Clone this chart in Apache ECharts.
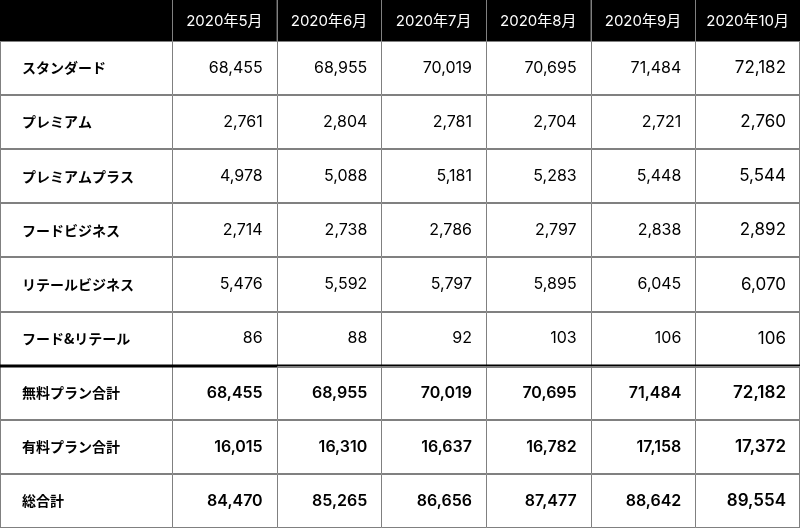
<!DOCTYPE html>
<html>
<head>
<meta charset="utf-8">
<script src="https://cdn.jsdelivr.net/npm/echarts@6/dist/echarts.min.js"></script>
<style>html,body{margin:0;padding:0;background:#fff}#c{width:800px;height:529px}</style>
</head>
<body>
<div id="c"></div>
<script>
const months = ['2020年5月','2020年6月','2020年7月','2020年8月','2020年9月','2020年10月'];
const rowLabels = ['スタンダード','プレミアム','プレミアムプラス','フードビジネス','リテールビジネス','フード&リテール','無料プラン合計','有料プラン合計','総合計'];
const standard    = [68455,68955,70019,70695,71484,72182];
const premium     = [2761,2804,2781,2704,2721,2760];
const premiumPlus = [4978,5088,5181,5283,5448,5544];
const food        = [2714,2738,2786,2797,2838,2892];
const retail      = [5476,5592,5797,5895,6045,6070];
const foodRetail  = [86,88,92,103,106,106];
const freeTotal   = [68455,68955,70019,70695,71484,72182];
const paidTotal   = [16015,16310,16637,16782,17158,17372];
const grandTotal  = [84470,85265,86656,87477,88642,89554];

const rows = [standard, premium, premiumPlus, food, retail, foodRetail, freeTotal, paidTotal, grandTotal];
const data = [];
rows.forEach((arr, r) => arr.forEach((v, c) => data.push([c, r, v])));

const FONT = '"Noto Sans CJK JP", "Noto Sans", sans-serif';
const NUMFONT = 'Inter, "Noto Sans CJK JP", sans-serif';
const GRID = '#808080';
const fmt = v => Number(v).toLocaleString('en-US');

function renderItem(params, api) {
  const col = api.value(0), row = api.value(1), val = api.value(2);
  const cs = params.coordSys;
  const c = api.coord([col, row]);
  const s = api.size([1, 1]);
  const w = s[0], h = s[1];
  const x0 = Math.round(c[0] - w / 2) + 0.5;
  const y0 = Math.round(c[1] - h / 2) + 0.5;
  const x1 = Math.round(c[0] + w / 2) - 0.5;
  const y1 = Math.round(c[1] + h / 2) - 0.5;
  const children = [];
  const line = (ax, ay, bx, by, lw, col_) => children.push({
    type: 'line', shape: {x1: ax, y1: ay, x2: bx, y2: by},
    style: {stroke: col_ || GRID, lineWidth: lw || 1}
  });
  if (row === 0) {
    children.push({type: 'rect', shape: {x: c[0] - w / 2, y: 0, width: w, height: c[1] - h / 2}, style: {fill: '#000'}});
    line(x0, 0, x0, y0);
    if (col === 0) {
      children.push({type: 'rect', shape: {x: 0, y: 0, width: c[0] - w / 2, height: c[1] - h / 2}, style: {fill: '#000'}});
    }
  }
  line(x0, y0, x0, y1);
  line(x0, y1, x1 + 1, y1);
  if (col === 5) line(x1, y0, x1, y1);
  line(x0, y0, x1 + 1, y0);
  if (col === 0) {
    line(0.5, y0, 0.5, y1);
    line(0, y1, x0, y1);
    line(0, y0, x0, y0);
  }
  if (row === 6 && col === 0) {
    line(0, Math.round(c[1] - h / 2), cs.x + cs.width, Math.round(c[1] - h / 2), 3, '#000');
  }
  const bold = row >= 6;
  const size = col === 5 ? 17 : 16;
  children.push({
    type: 'text',
    style: {
      text: fmt(val), x: c[0] + w / 2 - 14, y: c[1],
      align: 'right', verticalAlign: 'middle',
      fill: '#000', font: (bold ? '600 ' : '400 ') + size + 'px ' + NUMFONT
    }
  });
  return {type: 'group', children};
}

const chart = echarts.init(document.getElementById('c'));
chart.setOption({
  animation: false,
  backgroundColor: '#fff',
  grid: {left: 172, right: 0, top: 41, bottom: 1, containLabel: false},
  xAxis: {
    type: 'category', data: months, position: 'top', z: 10,
    axisLine: {show: false}, axisTick: {show: false}, splitLine: {show: false},
    axisLabel: {color: '#fff', fontSize: 15, fontFamily: NUMFONT, margin: 20, verticalAlign: 'middle', interval: 0}
  },
  yAxis: {
    type: 'category', data: rowLabels, inverse: true, z: 10,
    axisLine: {show: false}, axisTick: {show: false}, splitLine: {show: false},
    axisLabel: {color: '#000', fontSize: 14, fontWeight: 'bold', fontFamily: FONT, margin: 150, align: 'left', interval: 0}
  },
  series: [{
    type: 'custom', renderItem, data, clip: false, z: 1,
    encode: {x: 0, y: 1}
  }]
});
</script>
</body>
</html>
